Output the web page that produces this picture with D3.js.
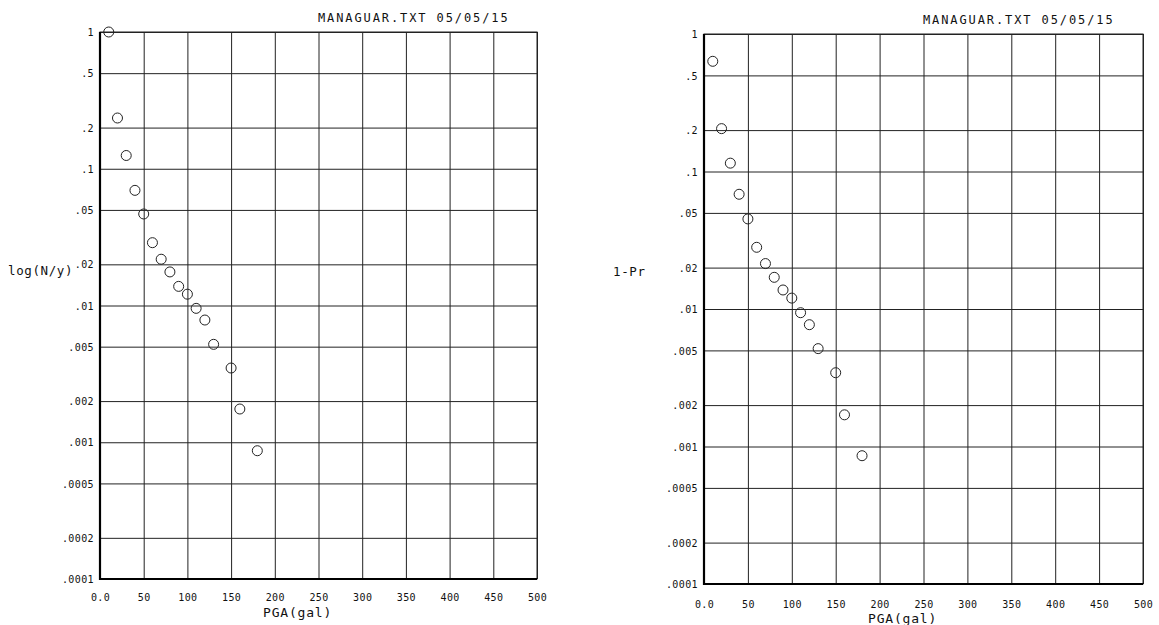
<!DOCTYPE html>
<html>
<head>
<meta charset="utf-8">
<script src="https://cdn.jsdelivr.net/npm/d3@7"></script>
<style>
  body { margin:0; background:#fff; }
  svg { display:block; }
  text { font-family:"DejaVu Sans Mono", "Liberation Mono", monospace; fill:#111; }
  .tick text { font-size:10px; letter-spacing:0.4px; }
  .tick line { stroke:#222; stroke-width:1; }
</style>
</head>
<body>
<svg id="chart"></svg>
<script>
// PGA (gal) of each point
var pga = [10, 20, 30, 40, 50, 60, 70, 80, 90, 100, 110, 120, 130, 150, 160, 180];
// annual rate, left panel
var rateN = [1.0, 0.235, 0.125, 0.0695, 0.0467, 0.0288, 0.0218, 0.0176, 0.0138, 0.0121,
             0.00953, 0.00783, 0.0052, 0.00349, 0.00175, 0.000867];
// 1-Pr, right panel
var onePr = [0.633, 0.205, 0.115, 0.0683, 0.0452, 0.0281, 0.0214, 0.0170, 0.01375, 0.0120,
             0.0094, 0.00769, 0.00515, 0.00344, 0.0017, 0.000857];

var yTicks = [1, 0.5, 0.2, 0.1, 0.05, 0.02, 0.01, 0.005, 0.002, 0.001, 0.0005, 0.0002, 0.0001];
var yTickLabels = ["1", ".5", ".2", ".1", ".05", ".02", ".01", ".005", ".002", ".001", ".0005", ".0002", ".0001"];
var xTicks = [0, 50, 100, 150, 200, 250, 300, 350, 400, 450, 500];
var xTickLabels = ["0.0", "50", "100", "150", "200", "250", "300", "350", "400", "450", "500"];

var title = "MANAGUAR.TXT 05/05/15";

var screen = {width:1159, height:625};

var svg = d3.select("#chart")
    .attr("width", screen.width)
    .attr("height", screen.height);

var panels = [
    {left:100, top:32, width:437, height:547, values:rateN, ylabel:"log(N/y)",
     ylabelX:8, ylabelY:275, titleX:318, titleY:22, xlabelX:263, xlabelY:617, xtickY:598},
    {left:704, top:34, width:439, height:550, values:onePr, ylabel:"1-Pr",
     ylabelX:613, ylabelY:276, titleX:923, titleY:24, xlabelX:868, xlabelY:623, xtickY:605}
];

var drawPanel = function(p)
{
    var xScale = d3.scaleLinear()
        .domain([0, 500])
        .range([0, p.width]);

    var yScale = d3.scaleLog()
        .domain([0.0001, 1])
        .range([p.height, 0]);

    var g = svg.append("g")
        .attr("transform", "translate(" + p.left + "," + p.top + ")");

    // horizontal grid + y labels
    var yAxis = d3.axisLeft(yScale)
        .tickValues(yTicks)
        .tickFormat(function(d, i) { return yTickLabels[i]; })
        .tickSizeInner(-p.width)
        .tickSizeOuter(0)
        .tickPadding(6);
    var ya = g.append("g").call(yAxis);
    ya.select(".domain").remove();
    ya.selectAll(".tick text").attr("dy", "0.36em");

    // vertical grid + x labels
    var xAxis = d3.axisBottom(xScale)
        .tickValues(xTicks)
        .tickFormat(function(d, i) { return xTickLabels[i]; })
        .tickSizeInner(-p.height)
        .tickSizeOuter(0)
        .tickPadding(p.xtickY - p.top - p.height - 4);
    var xa = g.append("g")
        .attr("transform", "translate(0," + p.height + ")")
        .call(xAxis);
    xa.select(".domain").remove();

    // frame
    g.append("rect")
        .attr("width", p.width)
        .attr("height", p.height)
        .attr("fill", "none")
        .attr("stroke", "#222")
        .attr("stroke-width", 1);
    g.append("path")
        .attr("d", "M0,0V" + p.height + "H" + p.width)
        .attr("fill", "none")
        .attr("stroke", "#000")
        .attr("stroke-width", 2.2);

    // points
    g.selectAll("circle")
        .data(p.values)
        .enter()
        .append("circle")
        .attr("cx", function(d, i) { return xScale(pga[i]); })
        .attr("cy", function(d) { return yScale(d); })
        .attr("r", 5)
        .attr("fill", "none")
        .attr("stroke", "#222")
        .attr("stroke-width", 1);

    svg.append("text")
        .attr("x", p.titleX)
        .attr("y", p.titleY)
        .style("font-size", "12px")
        .style("letter-spacing", "1.9px")
        .text(title);

    svg.append("text")
        .attr("x", p.ylabelX)
        .attr("y", p.ylabelY)
        .style("font-size", "12.5px")
        .style("letter-spacing", "0.6px")
        .text(p.ylabel);

    svg.append("text")
        .attr("x", p.xlabelX)
        .attr("y", p.xlabelY)
        .style("font-size", "13px")
        .style("letter-spacing", "0.8px")
        .text("PGA(gal)");
}

panels.forEach(drawPanel);
</script>
</body>
</html>
